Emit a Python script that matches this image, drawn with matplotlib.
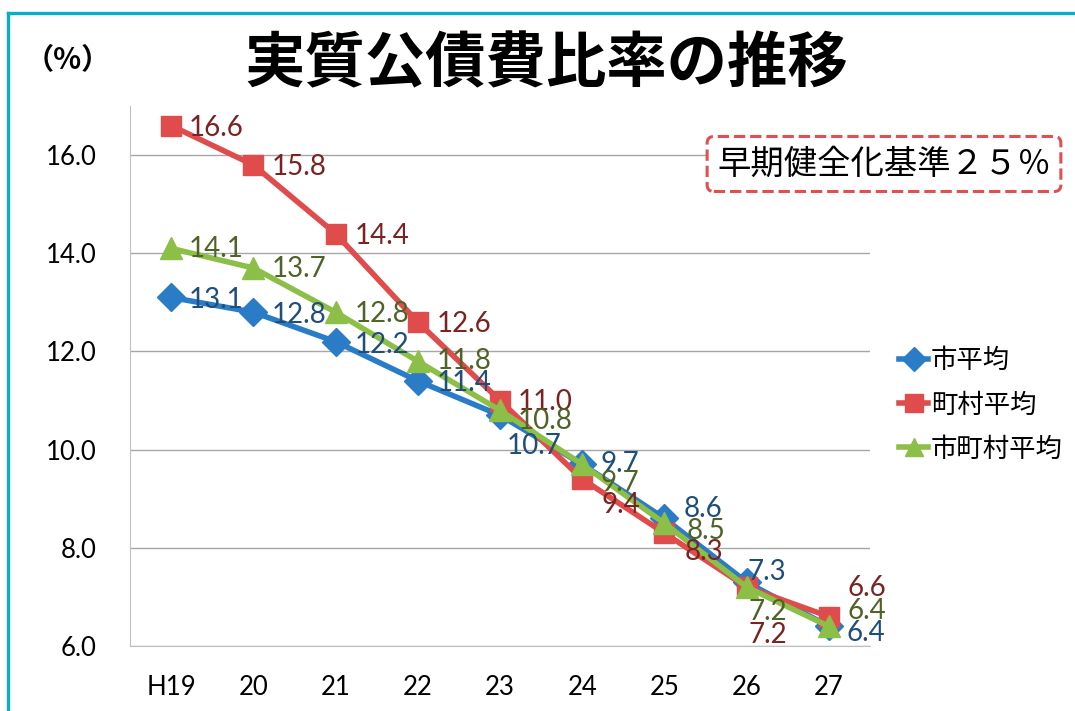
import matplotlib.pyplot as plt
from matplotlib.lines import Line2D

# data
years = ['H19', '20', '21', '22', '23', '24', '25', '26', '27']
city_avg = [13.1, 12.8, 12.2, 11.4, 10.7, 9.7, 8.6, 7.3, 6.4]
town_avg = [16.6, 15.8, 14.4, 12.6, 11.0, 9.4, 8.3, 7.2, 6.6]
all_avg = [14.1, 13.7, 12.8, 11.8, 10.8, 9.7, 8.5, 7.2, 6.4]
series_names = ['市平均', '町村平均', '市町村平均']

# label offsets in pixels (dx, dy)
city_off = [(18, -3), (18, -3), (19, -3), (19, -2), (7, -31), (18, 0), (19, 9), (1, 10), (18, -7)]
town_off = [(18, -2), (18, -2), (19, -2), (19, -2), (18, -1), (19, -26), (20, -19), (2, -48), (19, 29)]
all_off = [(18, -1), (18, -1), (19, -2), (19, 0), (18, -11), (18, -19), (22, -8), (2, -25), (19, 15)]

CJK = ['Noto Sans CJK JP', 'DejaVu Sans']
NUM = ['Lato', 'DejaVu Sans']

W, H = 1075, 711
fig = plt.figure(figsize=(W / 100, H / 100), dpi=100)
ax = fig.add_axes([130 / W, 1 - 646 / H, 740 / W, 540 / H])

x = list(range(len(years)))
styles = [
    (city_avg, '#2b7cc6', '#1f4e79', 'D', 14, city_off),
    (town_avg, '#e04c4c', '#7b2222', 's', 15, town_off),
    (all_avg, '#8cbf47', '#4f6228', '^', 16, all_off),
]
for (vals, col, tcol, mk, ms, offs), name in zip(styles, series_names):
    ax.plot(x, vals, color=col, lw=4, marker=mk, markersize=ms, label=name, zorder=3)
    for xi, v, (dx, dy) in zip(x, vals, offs):
        ax.annotate(f'{v:.1f}', (xi, v), xytext=(dx, dy), textcoords='offset pixels',
                    ha='left', va='center', fontsize=20, color=tcol, family=NUM, zorder=4)

ax.set_xlim(-0.5, 8.5)
ax.set_ylim(6, 17)
ax.set_yticks([6, 8, 10, 12, 14, 16])
ax.set_yticklabels([f'{t:.1f}' for t in [6, 8, 10, 12, 14, 16]], family=NUM, fontsize=18.5)
ax.set_xticks(x)
ax.set_xticklabels(years, family=NUM, fontsize=18.5)
ax.tick_params(axis='y', length=0, pad=24)
ax.tick_params(axis='x', length=0, pad=21)
ax.grid(axis='y', color='#a6a6a6', lw=1)
ax.set_axisbelow(True)
for s in ['top', 'right']:
    ax.spines[s].set_visible(False)
ax.spines['left'].set_color('#c0c0c0')
ax.spines['bottom'].set_color('#c0c0c0')

fig.text(546 / W, 1 - 65 / H, '実質公債費比率の推移', ha='center', va='center',
         fontsize=43.5, fontweight='bold', family=CJK)
fig.text(68 / W, 1 - 60 / H, '（%）', ha='center', va='center',
         fontsize=21, fontweight='bold', family=CJK)
fig.text(884 / W, 1 - 164 / H, '早期健全化基準２５％', ha='center', va='center',
         fontsize=24, family=CJK,
         bbox=dict(boxstyle='round,pad=0.3,rounding_size=0.2', ec='#e05050', fc='white',
                   ls='--', lw=2.2))

fig.legend(loc='center left', bbox_to_anchor=(886 / W, 1 - 405 / H), frameon=False,
           prop={'family': CJK, 'size': 19}, handlelength=1.1, handletextpad=0.1,
           labelspacing=0.65, borderpad=0, markerscale=0.85)

# teal frame
fig.add_artist(Line2D([8 / W, 1], [1 - 13 / H, 1 - 13 / H], color='#0aaecb', lw=2.4))
fig.add_artist(Line2D([8 / W, 8 / W], [0, 1 - 13 / H], color='#0aaecb', lw=2.4))

fig.savefig('out.png', dpi=100)
